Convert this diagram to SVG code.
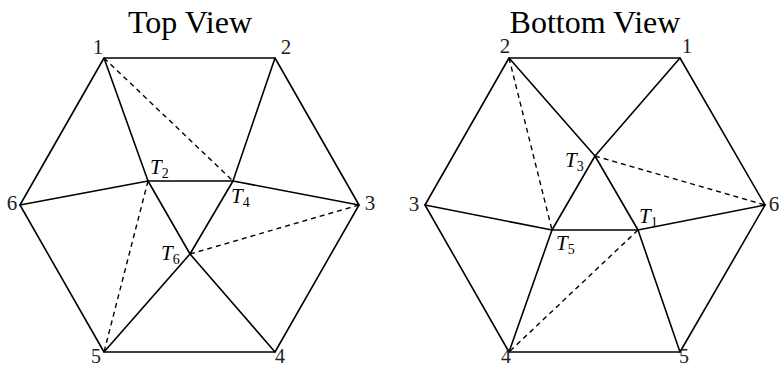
<svg xmlns="http://www.w3.org/2000/svg" width="779" height="368" viewBox="0 0 779 368">
<style>
.e{stroke:#000;stroke-width:1.6;fill:none;stroke-linecap:round;stroke-linejoin:round}
.d{stroke:#000;stroke-width:1.4;fill:none;stroke-dasharray:5 4}
.t{font-family:"Liberation Serif","DejaVu Serif",serif;fill:#000}
.title{font-size:32px;text-anchor:middle}
.n{font-size:21px;fill:#222}
.nb{font-size:20px;fill:#222}
.v{font-size:21px;font-style:italic}
.s{font-size:14px;font-style:normal}
</style>
<g id="top-view">
<text class="t title" x="190" y="33">Top View</text>
<g id="connectors-top">
<polygon class="e" points="104,58 275,58 359,205 275,352 104,352 20,205"/>
<line class="e" x1="104" y1="58" x2="148" y2="181"/>
<line class="e" x1="148" y1="181" x2="20" y2="205"/>
<line class="e" x1="148" y1="181" x2="233" y2="181"/>
<line class="e" x1="233" y1="181" x2="275" y2="58"/>
<line class="e" x1="233" y1="181" x2="359" y2="205"/>
<line class="e" x1="233" y1="181" x2="190" y2="254"/>
<line class="e" x1="190" y1="254" x2="104" y2="352"/>
<line class="e" x1="148" y1="181" x2="190" y2="254"/>
<line class="e" x1="190" y1="254" x2="275" y2="352"/>
<line class="d" x1="104" y1="58" x2="233" y2="181"/>
<line class="d" x1="148" y1="181" x2="104" y2="352"/>
<line class="d" x1="190" y1="254" x2="359" y2="205"/>
</g>
<g id="n1"><text class="t n" x="98" y="54" text-anchor="middle">1</text></g>
<g id="n2"><text class="t n" x="286" y="54" text-anchor="middle">2</text></g>
<g id="n3"><text class="t n" x="370" y="210" text-anchor="middle">3</text></g>
<g id="n4"><text class="t nb" x="280" y="363" text-anchor="middle">4</text></g>
<g id="n5"><text class="t nb" x="96" y="363" text-anchor="middle">5</text></g>
<g id="n6"><text class="t n" x="12" y="210" text-anchor="middle">6</text></g>
<g id="T2"><text class="t v" x="150" y="174">T<tspan class="s" dy="4">2</tspan></text></g>
<g id="T4"><text class="t v" x="231" y="203">T<tspan class="s" dy="4">4</tspan></text></g>
<g id="T6"><text class="t v" x="161" y="260">T<tspan class="s" dy="4">6</tspan></text></g>
</g>
<g id="bottom-view">
<text class="t title" x="595" y="33">Bottom View</text>
<g id="connectors-bottom">
<polygon class="e" points="509,58 680,58 765,205 680,352 509,352 425,205"/>
<line class="e" x1="509" y1="58" x2="595" y2="156"/>
<line class="e" x1="595" y1="156" x2="638" y2="230"/>
<line class="e" x1="680" y1="58" x2="595" y2="156"/>
<line class="e" x1="595" y1="156" x2="552" y2="230"/>
<line class="e" x1="552" y1="230" x2="425" y2="205"/>
<line class="e" x1="552" y1="230" x2="638" y2="230"/>
<line class="e" x1="638" y1="230" x2="765" y2="205"/>
<line class="e" x1="552" y1="230" x2="509" y2="352"/>
<line class="e" x1="638" y1="230" x2="680" y2="352"/>
<line class="d" x1="509" y1="58" x2="552" y2="230"/>
<line class="d" x1="595" y1="156" x2="765" y2="205"/>
<line class="d" x1="638" y1="230" x2="509" y2="352"/>
</g>
<g id="b2"><text class="t n" x="505" y="53" text-anchor="middle">2</text></g>
<g id="b1"><text class="t n" x="687" y="53" text-anchor="middle">1</text></g>
<g id="b3"><text class="t n" x="414" y="211" text-anchor="middle">3</text></g>
<g id="b6"><text class="t n" x="774" y="211" text-anchor="middle">6</text></g>
<g id="b4"><text class="t nb" x="506" y="363" text-anchor="middle">4</text></g>
<g id="b5"><text class="t nb" x="684" y="363" text-anchor="middle">5</text></g>
<g id="T3"><text class="t v" x="565" y="167">T<tspan class="s" dy="4">3</tspan></text></g>
<g id="T1"><text class="t v" x="639" y="223">T<tspan class="s" dy="4">1</tspan></text></g>
<g id="T5"><text class="t v" x="556" y="250">T<tspan class="s" dy="4">5</tspan></text></g>
</g>
</svg>
